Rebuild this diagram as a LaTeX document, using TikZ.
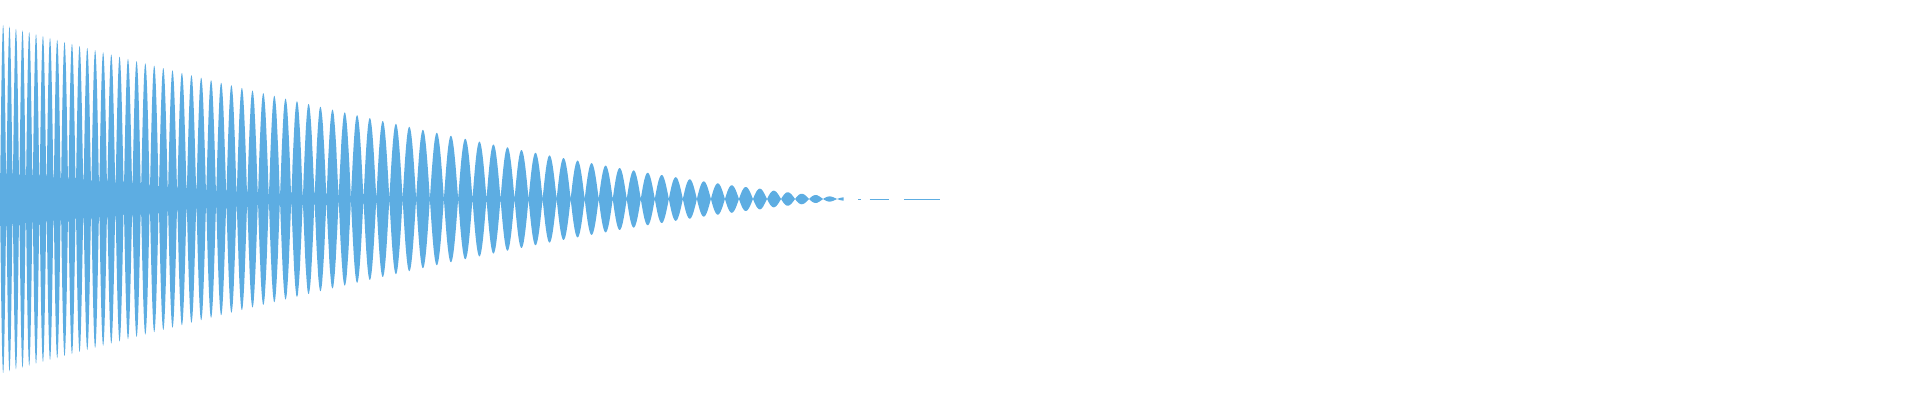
\documentclass[tikz,border=0pt]{standalone}
\definecolor{wave}{RGB}{93,173,226}
\begin{document}
\begin{tikzpicture}[x=1pt,y=1pt,
  declare function={
    amp(\x)=175*(max(1-\x/840,0))^1.4;
    ph(\x)=(\x<450) ? 180*ln(1+0.01778*\x/6)/0.01778 : 180*(47.65+(\x-450)/13.5);
    flo(\x)=(\x<300) ? 26*(1-\x/300) : 0;
    env(\x)=max(amp(\x)*abs(sin(ph(\x))),flo(\x));
  },
  wavefill/.style={fill=wave,draw=none},
  waveline/.style={draw=wave,line width=1pt}]
\useasboundingbox (0,0) rectangle (1920,400);
\begin{scope}[xscale=1.039]
\fill[wavefill] plot[domain=0:812,samples=3200,variable=\x] (\x,{201+env(\x)})
  -- plot[domain=812:0,samples=3200,variable=\x] (\x,{201-env(\x)}) -- cycle;
\coordinate (a1) at (826,201); \coordinate (a2) at (829,201);
\coordinate (b1) at (837,201); \coordinate (b2) at (856,201);
\coordinate (c1) at (870,201); \coordinate (c2) at (905,201);
\end{scope}
\draw[waveline] (a1) -- (a2);
\draw[waveline] (b1) -- (b2);
\draw[waveline] (c1) -- (c2);
\end{tikzpicture}
\end{document}
